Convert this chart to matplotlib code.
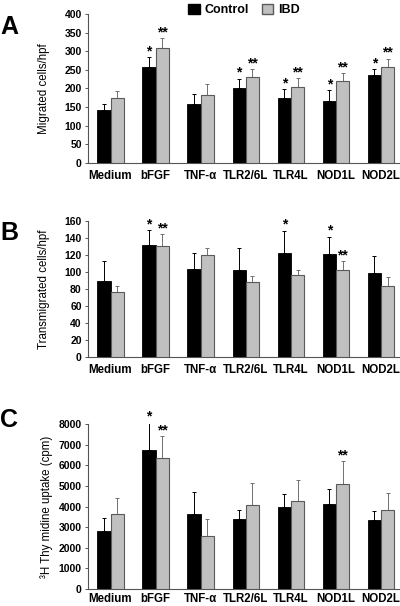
import matplotlib
matplotlib.use("Agg")
import matplotlib.pyplot as plt
import numpy as np
from matplotlib.patches import Patch

plt.rcParams["font.family"] = ["Liberation Sans", "DejaVu Sans"]

CATEGORIES = ["Medium", "bFGF", "TNF-\u03b1", "TLR2/6L", "TLR4L", "NOD1L", "NOD2L"]

# Panel A: migrated cells/hpf
A_CTRL = [141, 258, 159, 200, 175, 166, 235]
A_CTRL_ERR = [17, 26, 25, 26, 23, 30, 17]
A_IBD = [174, 308, 182, 230, 205, 220, 258]
A_IBD_ERR = [19, 27, 31, 21, 23, 21, 22]
A_CTRL_SIG = ["", "*", "", "*", "*", "*", "*"]
A_IBD_SIG = ["", "**", "", "**", "**", "**", "**"]

# Panel B: transmigrated cells/hpf
B_CTRL = [90, 132, 104, 103, 123, 121, 99]
B_CTRL_ERR = [23, 18, 18, 25, 26, 21, 20]
B_IBD = [76, 131, 120, 88, 96, 102, 83]
B_IBD_ERR = [8, 14, 9, 7, 7, 11, 11]
B_CTRL_SIG = ["", "*", "", "", "*", "*", ""]
B_IBD_SIG = ["", "**", "", "", "", "**", ""]

# Panel C: 3H thymidine uptake (cpm)
C_CTRL = [2830, 6740, 3650, 3380, 3960, 4140, 3345]
C_CTRL_ERR = [630, 1360, 1040, 450, 630, 700, 440]
C_IBD = [3620, 6350, 2550, 4100, 4270, 5075, 3830]
C_IBD_ERR = [790, 1100, 870, 1030, 1000, 1160, 820]
C_CTRL_SIG = ["", "*", "", "", "", "", ""]
C_IBD_SIG = ["", "**", "", "", "", "**", ""]

BLACK = "#000000"
GRAY = "#c0c0c0"
GRAY_EDGE = "#5a5a5a"


def draw_panel(ax, ctrl, ctrl_err, ibd, ibd_err, ctrl_sig, ibd_sig,
               ymax, ystep, ylabel, star_off, xpad=5, label_x=-0.123):
    x = np.arange(len(CATEGORIES))
    w = 0.295
    ax.bar(x - w / 2, ctrl, w, color=BLACK, edgecolor=BLACK, linewidth=0.6, zorder=3)
    ax.bar(x + w / 2, ibd, w, color=GRAY, edgecolor=GRAY_EDGE, linewidth=0.8, zorder=3)
    zeros = np.zeros(len(x))
    ax.errorbar(x - w / 2, ctrl, yerr=[zeros, ctrl_err], fmt="none",
                ecolor=BLACK, elinewidth=0.7, capsize=1.5, capthick=0.7, zorder=2)
    ax.errorbar(x + w / 2, ibd, yerr=[zeros, ibd_err], fmt="none",
                ecolor="#707070", elinewidth=0.7, capsize=1.5, capthick=0.7, zorder=2)
    for i in range(len(x)):
        if ctrl_sig[i]:
            ax.text(x[i] - w / 2, ctrl[i] + ctrl_err[i] + star_off, ctrl_sig[i],
                    ha="center", va="bottom", fontsize=10, fontweight="bold")
        if ibd_sig[i]:
            ax.text(x[i] + w / 2, ibd[i] + ibd_err[i] + star_off, ibd_sig[i],
                    ha="center", va="bottom", fontsize=10, fontweight="bold")
    ax.set_xlim(-0.5, 6.42)
    ax.set_ylim(0, ymax)
    ax.set_yticks(np.arange(0, ymax + 1, ystep))
    ax.set_xticks(x)
    ax.set_xticklabels(CATEGORIES, fontsize=8.3, fontweight="bold")
    for lab in ax.get_yticklabels():
        lab.set_fontweight("bold")
        lab.set_fontsize(7.5)
    ax.tick_params(axis="x", length=0, pad=xpad)
    ax.tick_params(axis="y", length=2.5, width=0.7, pad=2, color="#555555")
    for s in ["top", "right"]:
        ax.spines[s].set_visible(False)
    for s in ["left", "bottom"]:
        ax.spines[s].set_color("#555555")
        ax.spines[s].set_linewidth(0.8)
    ax.set_ylabel(ylabel, fontsize=8.3)
    ax.yaxis.set_label_coords(label_x, 0.5)


fig = plt.figure(figsize=(4.0, 6.06), dpi=100)
axA = fig.add_axes([0.22, 0.731, 0.78, 0.246])
axB = fig.add_axes([0.22, 0.4114, 0.78, 0.2234])
axC = fig.add_axes([0.22, 0.028, 0.78, 0.272])

draw_panel(axA, A_CTRL, A_CTRL_ERR, A_IBD, A_IBD_ERR, A_CTRL_SIG, A_IBD_SIG,
           400, 50, "Migrated cells/hpf", -3)
draw_panel(axB, B_CTRL, B_CTRL_ERR, B_IBD, B_IBD_ERR, B_CTRL_SIG, B_IBD_SIG,
           160, 20, "Transmigrated cells/hpf", -1.5)
draw_panel(axC, C_CTRL, C_CTRL_ERR, C_IBD, C_IBD_ERR, C_CTRL_SIG, C_IBD_SIG,
           8000, 1000, "\u00b3H Thy midine uptake (cpm)", -70, xpad=2.5,
           label_x=-0.113)

fig.text(0.0, 1 - 27 / 606, "A", fontsize=18, fontweight="bold", va="center", ha="left")
fig.text(0.0, 1 - 233 / 606, "B", fontsize=18, fontweight="bold", va="center", ha="left")
fig.text(0.0, 1 - 420 / 606, "C", fontsize=18, fontweight="bold", va="center", ha="left")

handles = [Patch(facecolor=BLACK, edgecolor=BLACK, label="Control"),
           Patch(facecolor=GRAY, edgecolor=GRAY_EDGE, label="IBD")]
fig.legend(handles=handles, loc="upper center", bbox_to_anchor=(0.61, 1.012),
           ncol=2, frameon=False, handlelength=0.9, handleheight=0.9,
           handletextpad=0.4, columnspacing=1.0,
           prop={"weight": "bold", "size": 9})

fig.savefig("out.png", dpi=100)
